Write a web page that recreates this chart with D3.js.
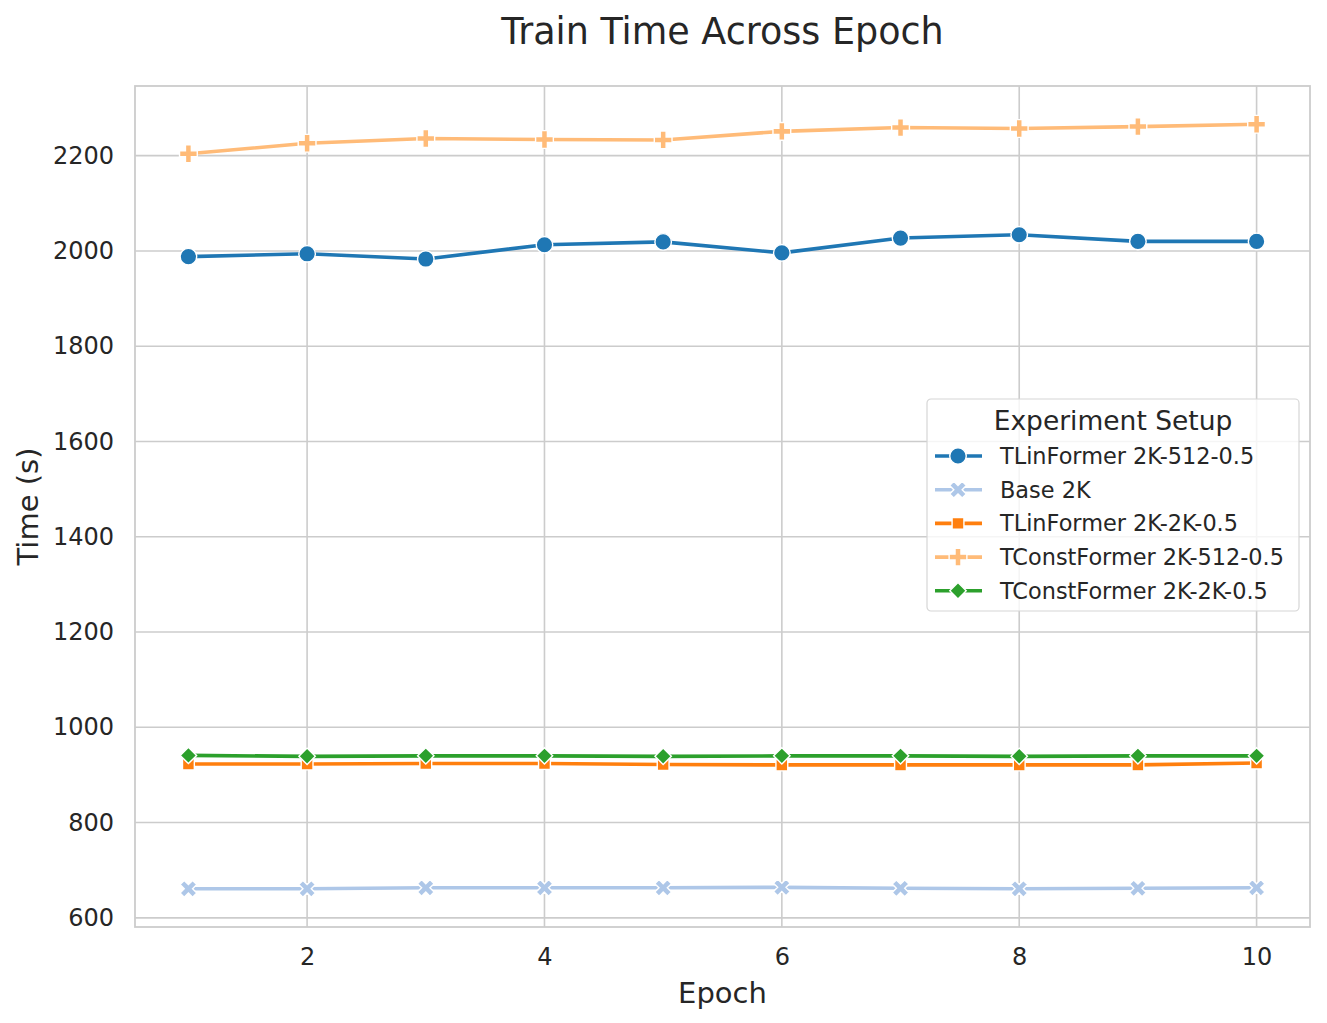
<!DOCTYPE html>
<html lang="en">
<head>
	<meta charset="UTF-8">
	<title>Train Time Across Epoch</title>
	<script src="https://cdnjs.cloudflare.com/ajax/libs/d3/7.8.5/d3.min.js"></script>
	<style>
		body { margin: 0; background: #fff; }
		text { font-family: "DejaVu Sans", sans-serif; fill: #262626; }
	</style>
</head>
<body>
<script type="text/javascript">
	// data
	var epochs = [1, 2, 3, 4, 5, 6, 7, 8, 9, 10];
	var seriesNames = ['TLinFormer 2K-512-0.5', 'Base 2K', 'TLinFormer 2K-2K-0.5', 'TConstFormer 2K-512-0.5', 'TConstFormer 2K-2K-0.5'];
	var tlin512 = [1988, 1994, 1983, 2013, 2019, 1996, 2027, 2034, 2020, 2020];
	var base2k = [661, 661, 663, 663, 663, 664, 662, 661, 662, 663];
	var tlin2k = [923, 923, 924, 924, 922, 921, 921, 921, 921, 925];
	var tconst512 = [2204, 2226, 2236, 2234, 2233, 2251, 2259, 2257, 2261, 2266];
	var tconst2k = [941, 939, 940, 940, 939, 940, 940, 939, 940, 940];
	var yTicks = [600, 800, 1000, 1200, 1400, 1600, 1800, 2000, 2200];
	var xTicks = [2, 4, 6, 8, 10];

	var allValues = [tlin512, base2k, tlin2k, tconst512, tconst2k];
	var colors = ['#1f77b4', '#aec7e8', '#ff7f0e', '#ffbb78', '#2ca02c'];
	var markers = ['circle', 'x', 'square', 'plus', 'diamond'];

	var W = 1327, H = 1023;
	var margin = {top: 86, left: 135, bottom: 96, right: 17};
	var width = W - margin.left - margin.right;
	var height = H - margin.top - margin.bottom;

	var svg = d3.select('body').append('svg')
		.attr('width', W)
		.attr('height', H);

	var g = svg.append('g')
		.attr('transform', 'translate(' + margin.left + ',' + margin.top + ')');

	var yMin = d3.min(allValues, function (a) { return d3.min(a); });
	var yMax = d3.max(allValues, function (a) { return d3.max(a); });
	var pad = (yMax - yMin) * 0.05;

	var x = d3.scaleLinear().domain([0.55, 10.45]).range([0, width]);
	var y = d3.scaleLinear().domain([yMin - pad, yMax + pad]).range([height, 0]);

	// grid
	g.append('g').selectAll('line').data(xTicks).enter().append('line')
		.attr('x1', function (d) { return x(d); })
		.attr('x2', function (d) { return x(d); })
		.attr('y1', 0).attr('y2', height)
		.attr('stroke', '#cccccc').attr('stroke-width', 1.6);
	g.append('g').selectAll('line').data(yTicks).enter().append('line')
		.attr('y1', function (d) { return y(d); })
		.attr('y2', function (d) { return y(d); })
		.attr('x1', 0).attr('x2', width)
		.attr('stroke', '#cccccc').attr('stroke-width', 1.6);

	// axes (labels only, whitegrid style)
	var xAxis = g.append('g')
		.attr('transform', 'translate(0,' + height + ')')
		.call(d3.axisBottom(x).tickValues(xTicks).tickFormat(d3.format('d')).tickSize(0).tickPadding(21));
	var yAxis = g.append('g')
		.call(d3.axisLeft(y).tickValues(yTicks).tickFormat(d3.format('d')).tickSize(0).tickPadding(21));
	[xAxis, yAxis].forEach(function (a) {
		a.select('.domain').remove();
		a.selectAll('text').style('font-size', '24px').style('font-family', '"DejaVu Sans", sans-serif').attr('fill', '#262626');
	});

	// frame
	g.append('rect')
		.attr('width', width).attr('height', height)
		.attr('fill', 'none').attr('stroke', '#cccccc').attr('stroke-width', 1.8);

	function markerPath(type) {
		if (type === 'circle') return d3.symbol().type(d3.symbolCircle).size(215)();
		if (type === 'square') return d3.symbol().type(d3.symbolSquare).size(140)();
		if (type === 'diamond') return d3.symbol().type(d3.symbolSquare).size(135)();
		return d3.symbol().type(d3.symbolCross).size(175)();
	}
	function markerRotate(type) {
		return (type === 'x' || type === 'diamond') ? 45 : 0;
	}

	var line = d3.line()
		.x(function (d, i) { return x(epochs[i]); })
		.y(function (d) { return y(d); });

	allValues.forEach(function (vals, k) {
		var s = g.append('g');
		s.append('path')
			.datum(vals)
			.attr('d', line)
			.attr('fill', 'none')
			.attr('stroke', colors[k])
			.attr('stroke-width', 3.6)
			.attr('stroke-linejoin', 'round')
			.attr('stroke-linecap', 'round');
		s.selectAll('.pt').data(vals).enter().append('path')
			.attr('class', 'pt')
			.attr('d', markerPath(markers[k]))
			.attr('transform', function (d, i) {
				return 'translate(' + x(epochs[i]) + ',' + y(d) + ') rotate(' + markerRotate(markers[k]) + ')';
			})
			.attr('fill', colors[k])
			.attr('stroke', '#ffffff')
			.attr('stroke-width', 1.4);
	});

	// title and axis labels
	svg.append('text')
		.attr('x', margin.left + width / 2).attr('y', 44)
		.attr('text-anchor', 'middle')
		.style('font-size', '36.5px')
		.text('Train Time Across Epoch');
	svg.append('text')
		.attr('x', margin.left + width / 2).attr('y', 1003)
		.attr('text-anchor', 'middle')
		.style('font-size', '29px')
		.text('Epoch');
	svg.append('text')
		.attr('transform', 'translate(38,' + (margin.top + height / 2) + ') rotate(-90)')
		.attr('text-anchor', 'middle')
		.style('font-size', '29px')
		.text('Time (s)');

	// legend
	var legend = svg.append('g').attr('transform', 'translate(927,399)');
	legend.append('rect')
		.attr('width', 372).attr('height', 212)
		.attr('rx', 4)
		.attr('fill', '#ffffff').attr('fill-opacity', 0.8)
		.attr('stroke', '#d6d6d6').attr('stroke-width', 1.2);
	legend.append('text')
		.attr('x', 186).attr('y', 31)
		.attr('text-anchor', 'middle')
		.style('font-size', '26.5px')
		.text('Experiment Setup');
	var items = legend.selectAll('.info').data(seriesNames).enter().append('g')
		.attr('class', 'info')
		.attr('transform', function (d, i) { return 'translate(0,' + (57 + i * 33.7) + ')'; });
	items.append('line')
		.attr('x1', 8).attr('x2', 55)
		.attr('stroke', function (d, i) { return colors[i]; })
		.attr('stroke-width', 3.6);
	items.append('path')
		.attr('d', function (d, i) { return markerPath(markers[i]); })
		.attr('transform', function (d, i) { return 'translate(31,0) rotate(' + markerRotate(markers[i]) + ')'; })
		.attr('fill', function (d, i) { return colors[i]; })
		.attr('stroke', '#ffffff').attr('stroke-width', 1.4);
	items.append('text')
		.attr('x', 73).attr('y', 8)
		.style('font-size', '22.4px')
		.text(function (d) { return d; });
</script>
</body>
</html>
